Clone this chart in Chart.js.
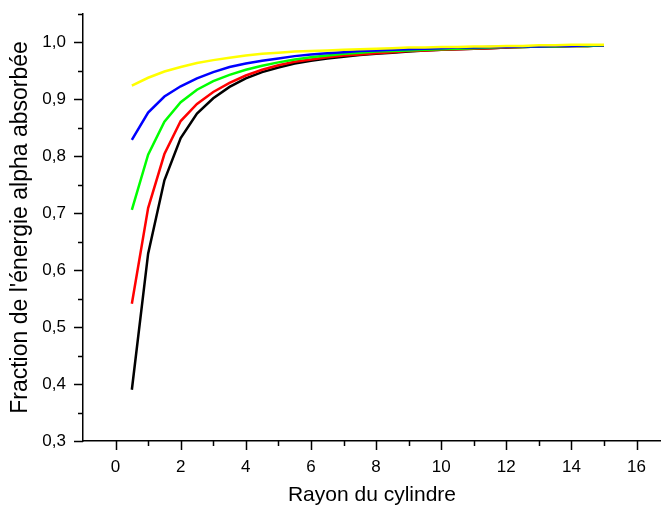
<!DOCTYPE html>
<html>
<head>
<meta charset="utf-8">
<script src="https://cdn.jsdelivr.net/npm/chart.js@4"></script>
<style>
  html, body { margin: 0; padding: 0; background: #fff; }
  #wrap { width: 661px; height: 512px; }
</style>
</head>
<body>
<div id="wrap"><canvas id="myChart" width="661" height="512"></canvas></div>
<script>
const rayon = [0.5, 1, 1.5, 2, 2.5, 3, 3.5, 4, 4.5, 5, 5.5, 6, 6.5, 7, 7.5, 8, 8.5, 9, 9.5, 10, 10.5, 11, 11.5, 12, 12.5, 13, 13.5, 14, 14.5, 15]

const serieNoire = [0.390, 0.629, 0.758, 0.832, 0.875, 0.902, 0.922, 0.937, 0.948, 0.956, 0.963, 0.968, 0.972, 0.975, 0.978, 0.980, 0.982, 0.984, 0.986, 0.987, 0.988, 0.989, 0.990, 0.991, 0.992, 0.993, 0.993, 0.994, 0.994, 0.995]
const serieRouge = [0.541, 0.709, 0.804, 0.862, 0.892, 0.913, 0.929, 0.942, 0.952, 0.960, 0.966, 0.970, 0.974, 0.977, 0.979, 0.981, 0.983, 0.985, 0.986, 0.987, 0.988, 0.989, 0.990, 0.991, 0.992, 0.993, 0.993, 0.994, 0.994, 0.995]
const serieVerte = [0.706, 0.803, 0.861, 0.895, 0.917, 0.932, 0.943, 0.952, 0.959, 0.965, 0.970, 0.974, 0.977, 0.980, 0.982, 0.984, 0.985, 0.986, 0.987, 0.988, 0.989, 0.990, 0.991, 0.992, 0.992, 0.993, 0.993, 0.994, 0.994, 0.995]
const serieBleue = [0.829, 0.877, 0.905, 0.923, 0.937, 0.948, 0.957, 0.963, 0.968, 0.972, 0.976, 0.979, 0.981, 0.983, 0.985, 0.986, 0.987, 0.988, 0.989, 0.990, 0.991, 0.991, 0.992, 0.992, 0.993, 0.993, 0.994, 0.994, 0.995, 0.995]
const serieJaune = [0.924, 0.938, 0.949, 0.957, 0.964, 0.969, 0.973, 0.977, 0.980, 0.982, 0.984, 0.985, 0.986, 0.987, 0.988, 0.989, 0.990, 0.991, 0.991, 0.992, 0.992, 0.993, 0.993, 0.994, 0.994, 0.995, 0.995, 0.996, 0.996, 0.996]

const xTicks = [0, 2, 4, 6, 8, 10, 12, 14, 16]
const yTicks = [0.3, 0.4, 0.5, 0.6, 0.7, 0.8, 0.9, 1.0]

const font = "Arial, 'Liberation Sans', sans-serif"

function points(values) {
    return rayon.map((x, i) => ({ x: x, y: values[i] }))
}

function serie(values, color) {
    return {
        data: points(values),
        borderColor: color,
        backgroundColor: color,
        borderWidth: 2.5,
        pointRadius: 0,
        tension: 0,
        fill: false
    }
}

// petites graduations tournées vers l'extérieur, majeures et mineures
const graduations = {
    id: 'graduations',
    afterDraw(chart) {
        const ctx = chart.ctx
        const xs = chart.scales.x
        const ys = chart.scales.y
        const area = chart.chartArea
        ctx.save()
        ctx.strokeStyle = '#000'
        ctx.lineWidth = 1.5
        ctx.beginPath()
        for (let v = 0; v <= 16; v++) {
            const px = Math.round(xs.getPixelForValue(v)) + 0.5
            const len = v % 2 === 0 ? 9 : 5
            ctx.moveTo(px, area.bottom)
            ctx.lineTo(px, area.bottom + len)
        }
        for (let k = 0; k <= 15; k++) {
            const v = 0.3 + k * 0.05
            const py = Math.round(ys.getPixelForValue(v)) + 0.5
            const len = k % 2 === 0 ? 9 : 5
            ctx.moveTo(area.left, py)
            ctx.lineTo(area.left - len, py)
        }
        ctx.stroke()
        ctx.restore()
    }
}

const ctx = document.getElementById('myChart').getContext('2d')
const myChart = new Chart(ctx, {
    type: 'line',
    data: {
        // le premier jeu est dessiné au-dessus : jaune en haut, comme l'original
        datasets: [
            serie(serieJaune, '#ffff00'),
            serie(serieBleue, '#0000ff'),
            serie(serieVerte, '#00ff00'),
            serie(serieRouge, '#ff0000'),
            serie(serieNoire, '#000000')
        ]
    },
    options: {
        responsive: false,
        animation: false,
        layout: { padding: { top: 14, right: 0, left: 0, bottom: 0 } },
        plugins: {
            legend: { display: false },
            tooltip: { enabled: false }
        },
        scales: {
            x: {
                type: 'linear',
                min: -1,
                max: 16.75,
                afterBuildTicks: s => { s.ticks = xTicks.map(v => ({ value: v })) },
                afterFit: s => { s.height = 71; s.paddingLeft = 0; s.paddingRight = 0 },
                grid: { display: false, drawTicks: false },
                border: { display: true, color: '#000', width: 1.5 },
                ticks: {
                    color: '#000',
                    maxRotation: 0,
                    autoSkip: false,
                    padding: 16,
                    font: { family: font, size: 17 },
                    callback: v => String(v)
                },
                title: {
                    display: true,
                    text: 'Rayon du cylindre',
                    color: '#000',
                    font: { family: font, size: 21 },
                    padding: { top: 4, bottom: 4 }
                }
            },
            y: {
                type: 'linear',
                min: 0.3,
                max: 1.05,
                afterBuildTicks: s => { s.ticks = yTicks.map(v => ({ value: v })) },
                afterFit: s => { s.width = 83; s.paddingTop = 0; s.paddingBottom = 0 },
                grid: { display: false, drawTicks: false },
                border: { display: true, color: '#000', width: 1.5 },
                ticks: {
                    color: '#000',
                    padding: 17,
                    font: { family: font, size: 17 },
                    callback: v => v.toFixed(1).replace('.', ',')
                },
                title: {
                    display: true,
                    text: "Fraction de l'énergie alpha absorbée",
                    color: '#000',
                    font: { family: font, size: 23 },
                    padding: { top: 7, bottom: 0 }
                }
            }
        }
    },
    plugins: [graduations]
})
</script>
</body>
</html>
